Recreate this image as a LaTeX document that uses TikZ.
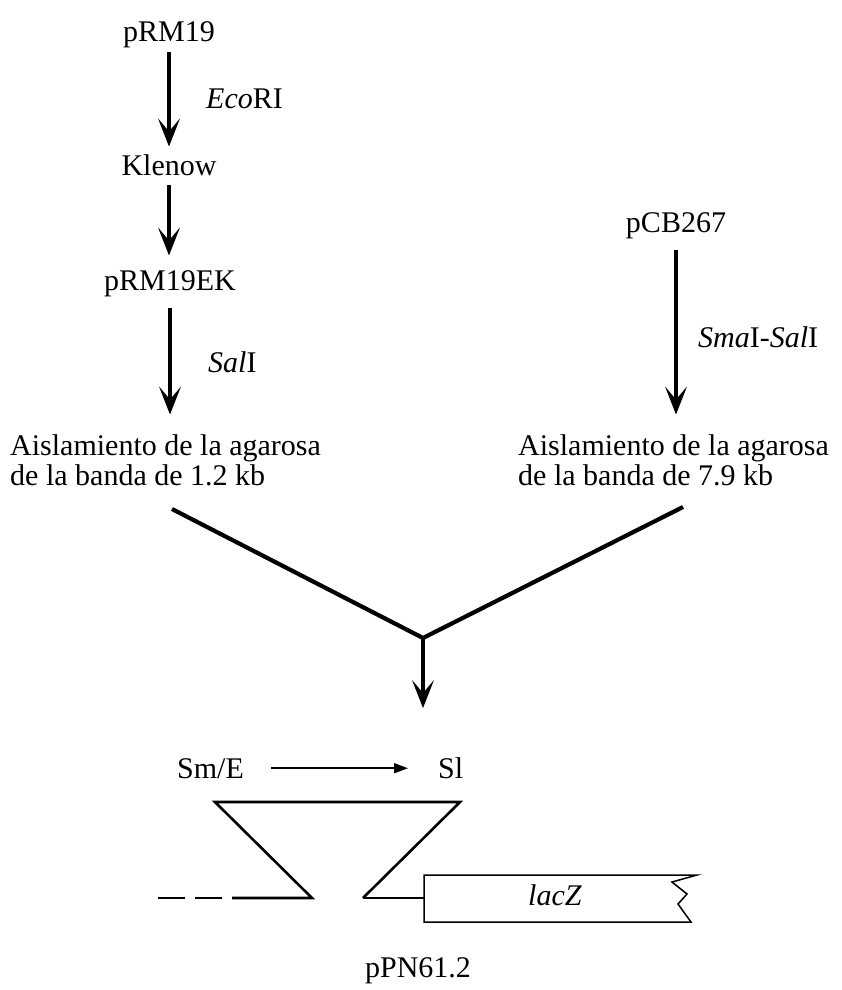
\documentclass[tikz,border=0pt]{standalone}
\usepackage{fontspec}
\setmainfont{Liberation Serif}
\usetikzlibrary{arrows.meta}
\begin{document}
\begin{tikzpicture}[x=1pt,y=-1pt,
  lbl/.style={inner sep=0pt, anchor=base, font=\fontsize{30}{30}\selectfont},
  lblw/.style={lbl, anchor=base west},
  bigarrow/.style={line width=3.4pt, -{Stealth[length=28pt,width=22pt,inset=13pt,line width=1.2pt]}},
  vline/.style={line width=4.2pt, line join=miter},
  trap/.style={line width=2.6pt, line join=miter},
  fineline/.style={line width=1.5pt},
  smallarrow/.style={line width=1.6pt, -{Triangle[length=14pt,width=10pt]}}]
\useasboundingbox (0,0) rectangle (841,990);
% left branch
\node[lbl] (prm19) at (169,42) {pRM19};
\node[lblw] (ecori) at (206,108) {\textit{Eco}RI};
\node[lbl] (klenow) at (169,175) {Klenow};
\node[lbl] (prm19ek) at (170,290) {pRM19EK};
\node[lblw] (sali) at (208,372) {\textit{Sal}I};
\node[lblw] (aisL1) at (10,455) {Aislamiento de la agarosa};
\node[lblw] (aisL2) at (10,485) {de la banda de 1.2 kb};
% right branch
\node[lbl] (pcb) at (676,232) {pCB267};
\node[lblw] (smai) at (698,347) {\textit{Sma}I-\textit{Sal}I};
\node[lblw] (aisR1) at (518,455) {Aislamiento de la agarosa};
\node[lblw] (aisR2) at (518,485) {de la banda de 7.9 kb};
% arrows
\draw[bigarrow, shorten <=3.5pt, shorten >=7.5pt] (prm19.south) -- (prm19.south |- klenow.north);
\draw[bigarrow, shorten <=10pt, shorten >=14.5pt] (klenow.south) -- (klenow.south |- prm19ek.north);
\draw[bigarrow, shorten <=11.5pt, shorten >=19.5pt] (prm19ek.south) -- (prm19ek.south |- aisL1.north);
\draw[bigarrow, shorten <=11.5pt, shorten >=19.5pt] (pcb.south) -- (pcb.south |- aisR1.north);
% V join
\coordinate (vl) at (172,509);
\coordinate (vr) at (683,507);
\coordinate (vj) at (423,638);
\coordinate (vt) at (423,708);
\draw[vline] (vl) -- (vj) -- (vr);
\draw[bigarrow] (vj) -- (vt);
% construct
\node[lblw] (sme) at (177,778) {Sm/E};
\node[lblw] (sl) at (438,778) {Sl};
\draw[smallarrow, shorten <=27pt, shorten >=30pt] (sme.east) -- (sme.east -| sl.west);
\coordinate (tl) at (215,802);
\coordinate (tr) at (460,802);
\coordinate (bl) at (312,898);
\coordinate (br) at (363,898);
\coordinate (ds) at (158,898);
\coordinate (de) at (232,898);
\coordinate (boxw) at (424,898);
\draw[trap, dash pattern=on 27pt off 10pt] (ds) -- (de);
\draw[trap] (de) -- (bl) -- (tl) -- (tr) -- (br);
\draw[fineline] (br) -- (boxw);
\draw[fineline, line join=miter] (424,875) -- (697,875) -- (672,882) -- (687,894) -- (678,904) -- (691,922) -- (424,922) -- cycle;
\node[lbl] (lacz) at (555,905) {\textit{lacZ}};
\node[lbl] (ppn) at (418,977) {pPN61.2};
\end{tikzpicture}
\end{document}
